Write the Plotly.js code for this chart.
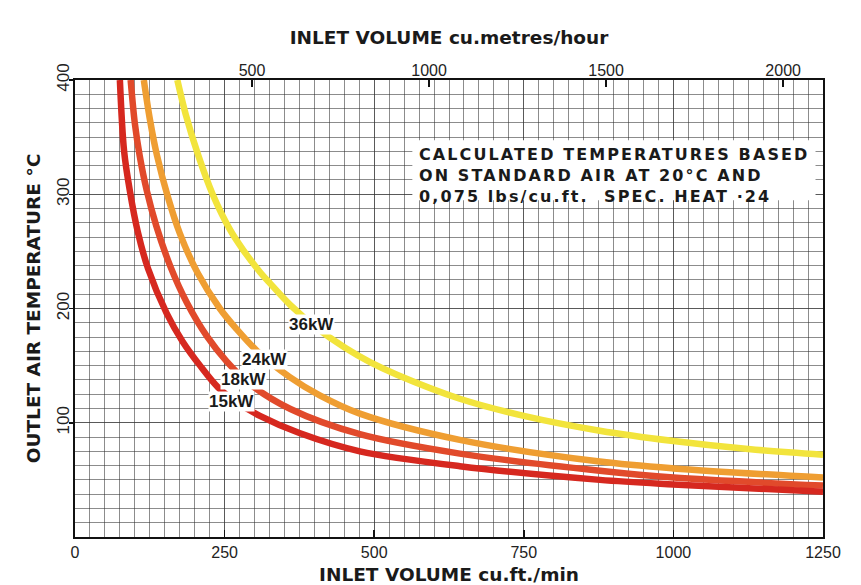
<!DOCTYPE html>
<html><head><meta charset="utf-8">
<script src="https://cdn.plot.ly/plotly-3.0.1.min.js"></script>
<style>
html,body{margin:0;padding:0;background:#fff;}
#chart{width:861px;height:585px;}
g.annotation[data-index="0"] text{letter-spacing:2.1px;}
</style></head><body><div id="chart"></div>
<script>
// Inlet volume (cu.ft./min) and outlet air temperature (°C)
const q15 = [75, 82, 92, 105, 122, 153, 180, 209, 239, 270, 309, 375, 476, 643, 877, 1000, 1250];
const t15 = [400, 338, 302, 267, 235, 196, 171, 150, 131, 118, 106, 91, 75, 62, 50, 46, 39.5];

const q18 = [93, 100, 108, 120, 136, 160, 187, 220, 253, 292, 360, 476, 643, 877, 1000, 1250];
const t18 = [400, 362, 334, 303, 272, 236, 205, 176, 154, 134, 112, 90, 73, 58, 52, 45];

const q24 = [115, 125, 137, 155, 175, 205, 242, 270, 304, 359, 409, 476, 643, 877, 1000, 1250];
const t24 = [400, 366, 334, 298, 266, 231, 200, 182, 163, 140, 124, 108, 85, 66, 60, 52];

const q36 = [171, 185, 206, 230, 259, 280, 309, 326, 360, 404, 450, 493, 538, 643, 750, 877, 1000, 1125, 1250];
const t36 = [400, 370, 334, 300, 269, 252, 232, 222, 203, 183, 166, 153, 142, 121, 106, 93, 84, 77, 72];

const seriesNames = ["36kW", "24kW", "18kW", "15kW"];
const xTicksCfm = [0, 250, 500, 750, 1000, 1250];
const xTicksM3h = [500, 1000, 1500, 2000];
const yTicks = [100, 200, 300, 400];
const noteLines = ["CALCULATED TEMPERATURES BASED", "ON STANDARD AIR AT 20°C AND", "0,075 lbs/cu.ft.\u00a0\u00a0SPEC. HEAT ·24"];

const M3H_PER_CFM = 1.69;
const xMax = 1250, yMax = 400;

const colors = {"36kW": "#f2e43c", "24kW": "#ef9e32", "18kW": "#e14a2b", "15kW": "#d6281f"};
const dataMap = {"36kW": [q36, t36], "24kW": [q24, t24], "18kW": [q18, t18], "15kW": [q15, t15]};

const traces = seriesNames.map(n => ({
  type: "scatter", mode: "lines", name: n,
  x: dataMap[n][0], y: dataMap[n][1],
  line: {color: colors[n], width: 6.5, shape: "spline", smoothing: 0.9},
  xaxis: "x", yaxis: "y", hoverinfo: "skip"
}));
traces.push({type: "scatter", mode: "lines", x: [], y: [], xaxis: "x2", yaxis: "y", showlegend: false});

const gridC = "rgba(50,50,50,0.7)";
const tickFont = {family: "Liberation Sans Narrow, Liberation Sans, Arial", size: 16, color: "#222"};
const titleFont = {family: "DejaVu Sans", size: 18.5, color: "#1a1a1a", weight: "bold"};

// label positions (data coords)
const labelPos = {"36kW": [396, 186], "24kW": [317, 155], "18kW": [282, 138], "15kW": [261, 119]};

const annotations = [{
  xref: "paper", yref: "paper", x: 0.457, y: 0.862, xanchor: "left", yanchor: "top",
  align: "left", showarrow: false, text: noteLines.join("<br>"),
  font: {family: "DejaVu Sans", size: 16, color: "#1a1a1a", weight: "bold"}
}];
seriesNames.forEach(n => annotations.push({
  x: labelPos[n][0], y: labelPos[n][1], xref: "x", yref: "y", showarrow: false,
  text: n, bgcolor: "#ffffff", borderpad: 0,
  font: {family: "Liberation Sans, Arial", size: 17, color: "#1a1a1a", weight: "bold"}
}));

const layout = {
  width: 861, height: 585,
  margin: {l: 75, r: 38, t: 80, b: 48},
  paper_bgcolor: "#ffffff", plot_bgcolor: "#ffffff",
  showlegend: false,
  xaxis: {
    range: [0, xMax], tickvals: xTicksCfm, ticktext: xTicksCfm.map(String),
    ticks: "inside", ticklen: 7, tickwidth: 1.5, tickcolor: "#111",
    showline: true, linecolor: "#111", linewidth: 1.6, mirror: true,
    showgrid: true, gridcolor: gridC, gridwidth: 0.8,
    minor: {dtick: 25, showgrid: true, gridcolor: gridC, gridwidth: 0.8, ticks: ""},
    zeroline: false, tickfont: tickFont, automargin: false,
    title: {text: "INLET VOLUME cu.ft./min", font: titleFont, standoff: 16}
  },
  xaxis2: {
    overlaying: "x", side: "top", anchor: "y",
    range: [0, xMax * M3H_PER_CFM], tickvals: xTicksM3h, ticktext: xTicksM3h.map(String),
    ticks: "inside", ticklen: 7, tickwidth: 1.5, tickcolor: "#111",
    showline: false, showgrid: false, zeroline: false, tickfont: tickFont, automargin: false,
    title: {text: "INLET VOLUME cu.metres/hour", font: titleFont, standoff: 12}
  },
  yaxis: {
    range: [0, yMax], tickvals: yTicks, ticktext: yTicks.map(String), tickangle: -90,
    ticks: "outside", ticklen: 4, tickwidth: 1.5, tickcolor: "#111",
    showline: true, linecolor: "#111", linewidth: 1.6, mirror: true,
    showgrid: true, gridcolor: gridC, gridwidth: 0.8,
    minor: {dtick: 12.5, showgrid: true, gridcolor: gridC, gridwidth: 0.8, ticks: ""},
    zeroline: false, tickfont: {family: "Liberation Sans Narrow, Liberation Sans, Arial", size: 17, color: "#222"},
    ticklabelstandoff: -6, automargin: false,
    title: {text: "OUTLET AIR TEMPERATURE °C", font: titleFont, standoff: 8}
  },
  shapes: [{
    type: "rect", xref: "paper", yref: "paper", x0: 0.451, x1: 0.99, y0: 0.737, y1: 0.868,
    fillcolor: "#ffffff", line: {width: 0}, layer: "above"
  }],
  annotations: annotations
};

Plotly.newPlot("chart", traces, layout, {displayModeBar: false, staticPlot: true});
</script></body></html>
